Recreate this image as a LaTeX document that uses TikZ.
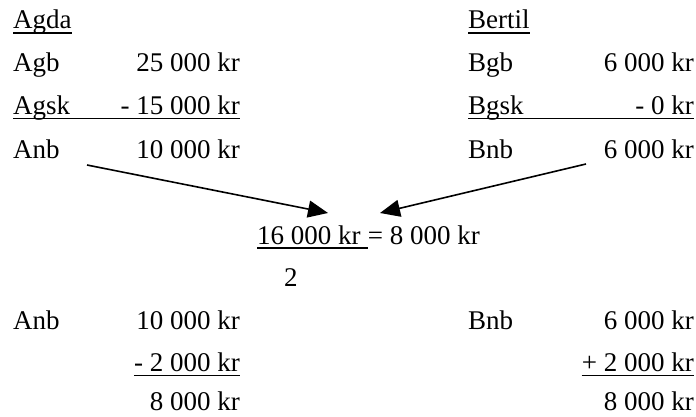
\documentclass[tikz,border=0pt]{standalone}
\usepackage{fontspec}
\setmainfont{Liberation Serif}
\usetikzlibrary{arrows.meta}
\begin{document}
\begin{tikzpicture}[x=1pt,y=-1pt,
  txt/.style={inner sep=0pt, font=\fontsize{27}{32}\selectfont},
  lt/.style={txt, anchor=base west},
  rt/.style={txt, anchor=base east},
  uline/.style={line width=1.6pt},
  arr/.style={line width=1.6pt, -{Triangle[length=20pt,width=17pt]}}]
\useasboundingbox (0,0) rectangle (696,417);
% Agda block
\node[lt] (agda) at (13,29) {Agda};
\node[lt] (agb) at (13,72) {Agb};
\node[rt] (agbv) at (240,72) {25 000 kr};
\node[lt] (agsk) at (13,115) {Agsk};
\node[rt] (agskv) at (240,115) {- 15 000 kr};
\node[lt] (anb) at (13,158) {Anb};
\node[rt] (anbv) at (240,158) {10 000 kr};
% Bertil block
\node[lt] (bertil) at (468,29) {Bertil};
\node[lt] (bgb) at (468,72) {Bgb};
\node[rt] (bgbv) at (694,72) {6 000 kr};
\node[lt] (bgsk) at (468,115) {Bgsk};
\node[rt] (bgskv) at (694,115) {- 0 kr};
\node[lt] (bnb) at (468,158) {Bnb};
\node[rt] (bnbv) at (694,158) {6 000 kr};
% underlines
\draw[uline] ([yshift=-4pt]agda.base west) -- ([yshift=-4pt]agda.base east);
\draw[uline] ([yshift=-3.5pt]agsk.base west) -- ([yshift=-3.5pt]agskv.base east);
\draw[uline] ([yshift=-4pt]bertil.base west) -- ([yshift=-4pt]bertil.base east);
\draw[uline] ([yshift=-3.5pt]bgsk.base west) -- ([yshift=-3.5pt]bgskv.base east);
% equation
\node[lt] (eqa) at (257,244) {16 000 kr\kern0.25em};
\node[lt] (eqb) at (eqa.base east) {= 8 000 kr};
\draw[uline] ([yshift=-4pt]eqa.base west) -- ([yshift=-4pt]eqa.base east);
\node[lt] (two) at (284,286) {2};
% arrows
\coordinate (la) at (87,165);
\coordinate (lb) at (328,213);
\coordinate (ra) at (586,164);
\coordinate (rb) at (380,213);
\draw[arr] (la) -- (lb);
\draw[arr] (ra) -- (rb);
% lower block
\node[lt] (anb2) at (13,329) {Anb};
\node[rt] (anb2v) at (240,329) {10 000 kr};
\node[rt] (minus) at (240,371) {- 2 000 kr};
\node[rt, text depth=0pt] (aend) at (240,410) {8 000 kr};
\node[lt] (bnb2) at (468,329) {Bnb};
\node[rt] (bnb2v) at (694,329) {6 000 kr};
\node[rt] (plus) at (694,371) {+ 2 000 kr};
\node[rt, text depth=0pt] (bend) at (694,410) {8 000 kr};
\draw[uline] ([yshift=-4.5pt]minus.base west) -- ([yshift=-4.5pt]minus.base east);
\draw[uline] ([yshift=-4.5pt]plus.base west) -- ([yshift=-4.5pt]plus.base east);
\end{tikzpicture}
\end{document}
